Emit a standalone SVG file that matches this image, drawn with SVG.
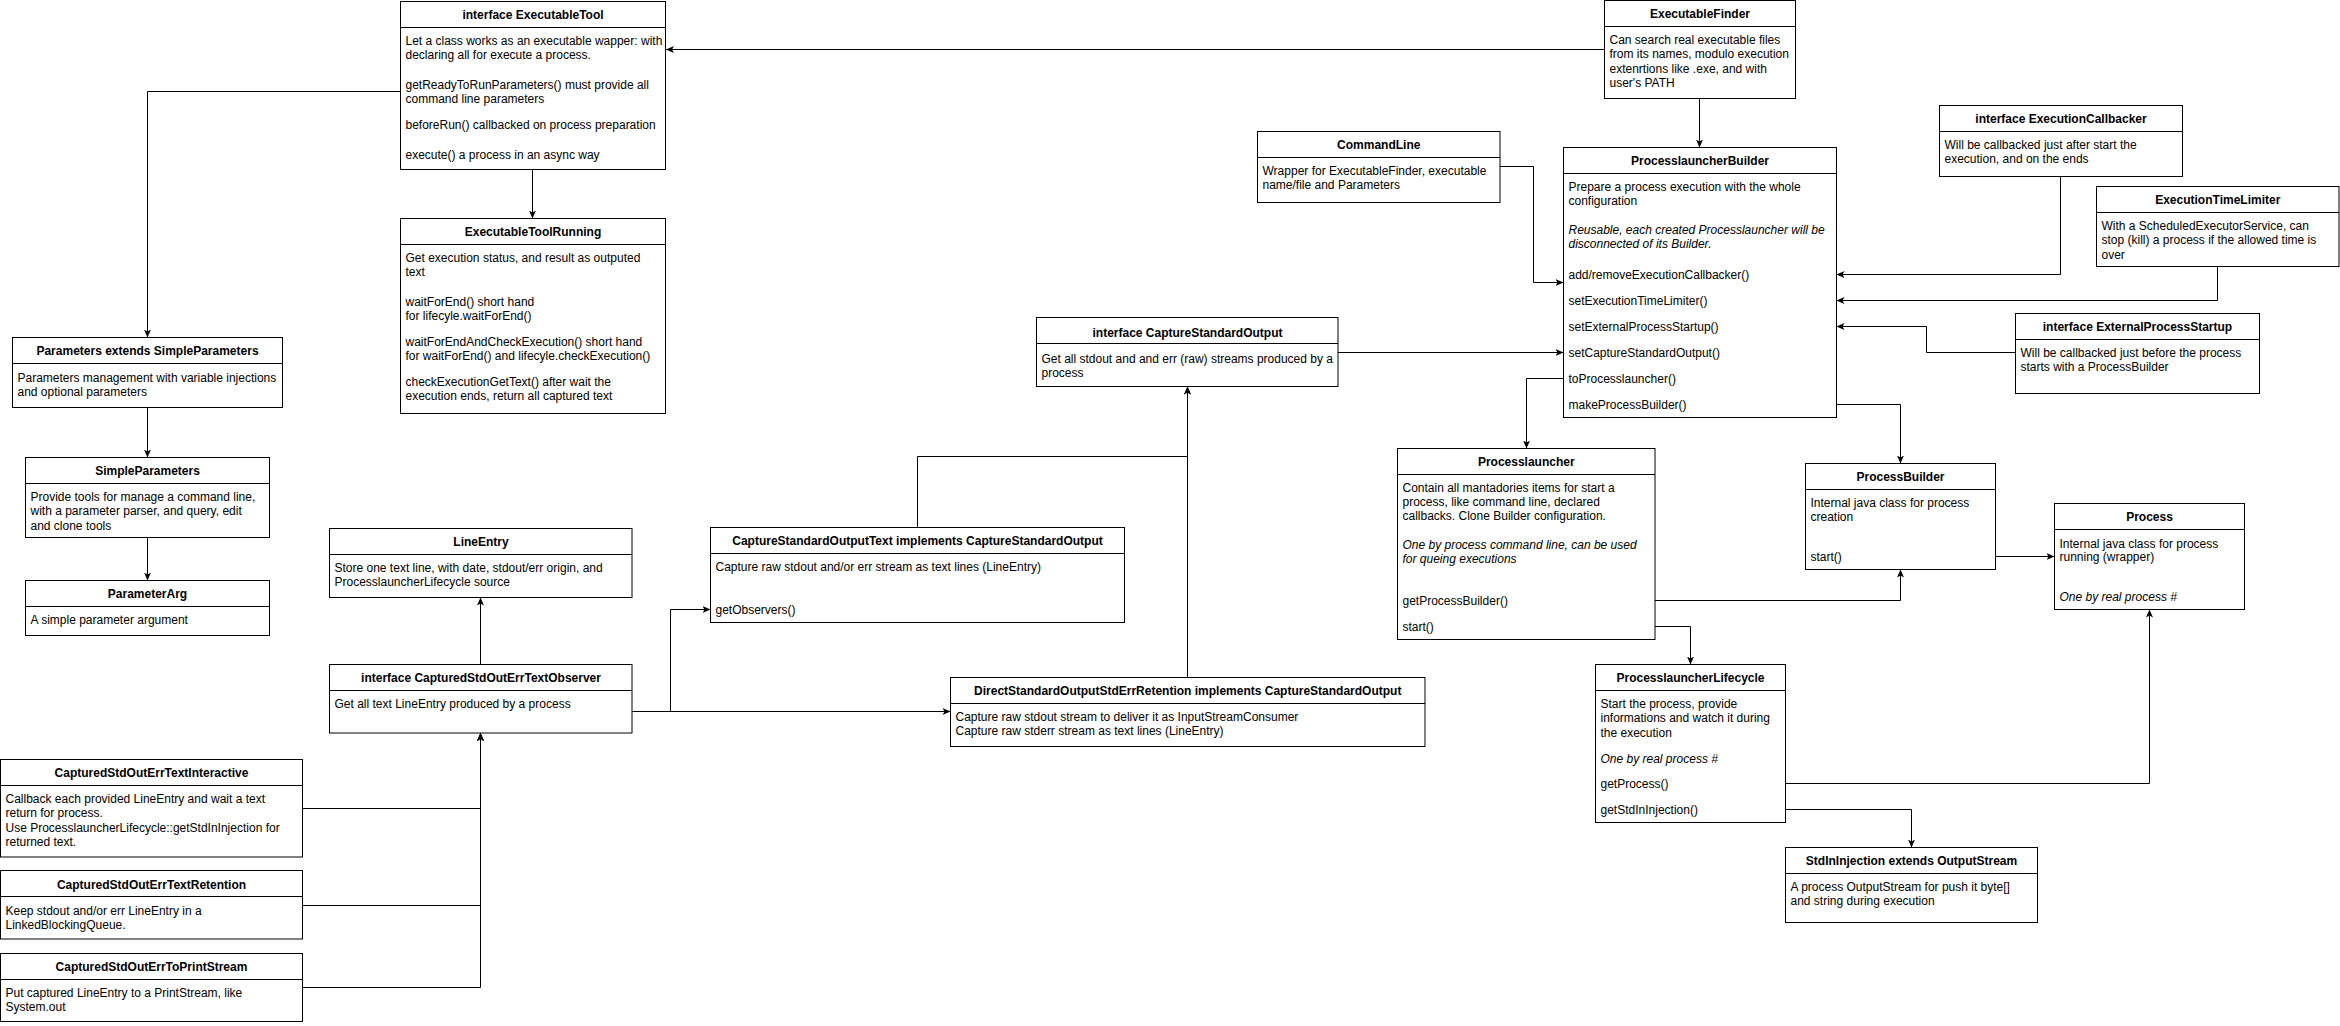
<svg xmlns="http://www.w3.org/2000/svg" width="2340" height="1026" viewBox="0 0 2340 1026">
<style>
.box{fill:#fff;stroke:#000;stroke-width:1}
.sep{stroke:#000;stroke-width:1}
text{font-family:"Liberation Sans",Arial,Helvetica,sans-serif;font-size:12px;fill:#000}
.t{font-weight:bold;text-anchor:middle}
.i{font-style:italic}
.c{fill:none;stroke:#000;stroke-width:1}
</style>
<defs>
<marker id="arr" viewBox="0 0 8 8" refX="8" refY="4" markerWidth="8" markerHeight="8" markerUnits="userSpaceOnUse" orient="auto">
<path d="M0,0.5 L8,4 L0,7.5 L2,4 Z" fill="#000"/>
</marker>
</defs>
<rect x="0" y="0" width="2340" height="1026" fill="#fff"/>

<g id="connectors">
<path class="c" marker-end="url(#arr)" d="M1604.5,49.5 H666"/>
<path class="c" marker-end="url(#arr)" d="M400.5,91.5 H147.5 V337.5"/>
<path class="c" marker-end="url(#arr)" d="M532.5,169.5 V218.5"/>
<path class="c" marker-end="url(#arr)" d="M147.5,407.5 V457.5"/>
<path class="c" marker-end="url(#arr)" d="M147.5,537.5 V580.5"/>
<path class="c" marker-end="url(#arr)" d="M480.5,664.5 V597.5"/>
<path class="c" marker-end="url(#arr)" d="M302.5,808.5 H480.5 V733"/>
<path class="c" marker-end="url(#arr)" d="M302.5,905.5 H480.5 V733"/>
<path class="c" marker-end="url(#arr)" d="M302.5,987.5 H480.5 V733"/>
<path class="c" marker-end="url(#arr)" d="M632,711.5 H670.5 V609.5 H710.5"/>
<path class="c" marker-end="url(#arr)" d="M632,711.5 H950.5"/>
<path class="c" marker-end="url(#arr)" d="M917.5,527.5 V456.5 H1187.5 V386.5"/>
<path class="c" marker-end="url(#arr)" d="M1187.5,677.5 V386.5"/>
<path class="c" marker-end="url(#arr)" d="M1338,352.5 H1563.5"/>
<path class="c" marker-end="url(#arr)" d="M1500,166.5 H1533.5 V282.5 H1563.5"/>
<path class="c" marker-end="url(#arr)" d="M1699.5,98.5 V147.5"/>
<path class="c" marker-end="url(#arr)" d="M2060.5,176.5 V274.5 H1836.5"/>
<path class="c" marker-end="url(#arr)" d="M2217.5,266.5 V300.5 H1836.5"/>
<path class="c" marker-end="url(#arr)" d="M2015.5,352.5 H1926.5 V326.5 H1836.5"/>
<path class="c" marker-end="url(#arr)" d="M1563.5,378.5 H1526.5 V448.5"/>
<path class="c" marker-end="url(#arr)" d="M1836.5,404.5 H1900.5 V463.5"/>
<path class="c" marker-end="url(#arr)" d="M1655,600.5 H1900.5 V569.5"/>
<path class="c" marker-end="url(#arr)" d="M1995.5,556.5 H2054.5"/>
<path class="c" marker-end="url(#arr)" d="M1655,626.5 H1690.5 V664.5"/>
<path class="c" marker-end="url(#arr)" d="M1785.5,783.5 H2149.5 V609.5"/>
<path class="c" marker-end="url(#arr)" d="M1785.5,809.5 H1911.5 V847.5"/>
</g>

<g id="executable-tool">
<rect class="box" x="400.5" y="1.5" width="265" height="168"/>
<line class="sep" x1="400.5" y1="27.5" x2="665.5" y2="27.5"/>
<text class="t" x="533" y="19">interface ExecutableTool</text>
<text x="405.5" y="44.5">Let a class works as an executable wapper: with</text>
<text x="405.5" y="58.5">declaring all for execute a process.</text>
<text x="405.5" y="88.5">getReadyToRunParameters() must provide all</text>
<text x="405.5" y="102.5">command line parameters</text>
<text x="405.5" y="128.5">beforeRun() callbacked on process preparation</text>
<text x="405.5" y="158.5">execute() a process in an async way</text>
</g>

<g id="executable-tool-running">
<rect class="box" x="400.5" y="218.5" width="265" height="195"/>
<line class="sep" x1="400.5" y1="244.5" x2="665.5" y2="244.5"/>
<text class="t" x="533" y="236">ExecutableToolRunning</text>
<text x="405.5" y="261.5">Get execution status, and result as outputed</text>
<text x="405.5" y="275.5">text</text>
<text x="405.5" y="305.5">waitForEnd() short hand</text>
<text x="405.5" y="319.5">for lifecyle.waitForEnd()</text>
<text x="405.5" y="345.5">waitForEndAndCheckExecution() short hand</text>
<text x="405.5" y="359.5">for waitForEnd() and lifecyle.checkExecution()</text>
<text x="405.5" y="385.5">checkExecutionGetText() after wait the</text>
<text x="405.5" y="399.5">execution ends, return all captured text</text>
</g>

<g id="parameters">
<rect class="box" x="12.5" y="337.5" width="270" height="70"/>
<line class="sep" x1="12.5" y1="363.5" x2="282.5" y2="363.5"/>
<text class="t" x="147.5" y="355">Parameters extends SimpleParameters</text>
<text x="17.5" y="381.5">Parameters management with variable injections</text>
<text x="17.5" y="395.5">and optional parameters</text>
</g>

<g id="simple-parameters">
<rect class="box" x="25.5" y="457.5" width="244" height="80"/>
<line class="sep" x1="25.5" y1="483.5" x2="269.5" y2="483.5"/>
<text class="t" x="147.5" y="474.5">SimpleParameters</text>
<text x="30.5" y="500.5">Provide tools for manage a command line,</text>
<text x="30.5" y="515">with a parameter parser, and query, edit</text>
<text x="30.5" y="529.5">and clone tools</text>
</g>

<g id="parameter-arg">
<rect class="box" x="25.5" y="580.5" width="244" height="55"/>
<line class="sep" x1="25.5" y1="606.5" x2="269.5" y2="606.5"/>
<text class="t" x="147.5" y="598">ParameterArg</text>
<text x="30.5" y="624">A simple parameter argument</text>
</g>

<g id="line-entry">
<rect class="box" x="329.5" y="528.5" width="302.5" height="69"/>
<line class="sep" x1="329.5" y1="554.5" x2="632" y2="554.5"/>
<text class="t" x="481" y="546">LineEntry</text>
<text x="334.5" y="571.5">Store one text line, with date, stdout/err origin, and</text>
<text x="334.5" y="585.5">ProcesslauncherLifecycle source</text>
</g>

<g id="text-observer">
<rect class="box" x="329.5" y="664.5" width="302.5" height="68.5"/>
<line class="sep" x1="329.5" y1="690.5" x2="632" y2="690.5"/>
<text class="t" x="481" y="682">interface CapturedStdOutErrTextObserver</text>
<text x="334.5" y="708">Get all text LineEntry produced by a process</text>
</g>

<g id="text-interactive">
<rect class="box" x="0.5" y="759.5" width="302" height="97.5"/>
<line class="sep" x1="0.5" y1="785.5" x2="302.5" y2="785.5"/>
<text class="t" x="151.5" y="776.5">CapturedStdOutErrTextInteractive</text>
<text x="5.5" y="802.5">Callback each provided LineEntry and wait a text</text>
<text x="5.5" y="817">return for process.</text>
<text x="5.5" y="831.5">Use ProcesslauncherLifecycle::getStdInInjection for</text>
<text x="5.5" y="845.5">returned text.</text>
</g>

<g id="text-retention">
<rect class="box" x="0.5" y="870.5" width="302" height="68.5"/>
<line class="sep" x1="0.5" y1="896.5" x2="302.5" y2="896.5"/>
<text class="t" x="151.5" y="888.5">CapturedStdOutErrTextRetention</text>
<text x="5.5" y="914.5">Keep stdout and/or err LineEntry in a</text>
<text x="5.5" y="928.5">LinkedBlockingQueue.</text>
</g>

<g id="to-print-stream">
<rect class="box" x="0.5" y="953.5" width="302" height="68"/>
<line class="sep" x1="0.5" y1="979.5" x2="302.5" y2="979.5"/>
<text class="t" x="151.5" y="971">CapturedStdOutErrToPrintStream</text>
<text x="5.5" y="996.5">Put captured LineEntry to a PrintStream, like</text>
<text x="5.5" y="1010.5">System.out</text>
</g>

<g id="capture-standard-output">
<rect class="box" x="1036.5" y="317.5" width="301.5" height="69"/>
<line class="sep" x1="1036.5" y1="343.5" x2="1338" y2="343.5"/>
<text class="t" x="1187.5" y="337">interface CaptureStandardOutput</text>
<text x="1041.5" y="362.5">Get all stdout and and err (raw) streams produced by a</text>
<text x="1041.5" y="376.5">process</text>
</g>

<g id="capture-standard-output-text">
<rect class="box" x="710.5" y="527.5" width="414" height="95"/>
<line class="sep" x1="710.5" y1="553.5" x2="1124.5" y2="553.5"/>
<text class="t" x="917.5" y="545">CaptureStandardOutputText implements CaptureStandardOutput</text>
<text x="715.5" y="570.5">Capture raw stdout and/or err stream as text lines (LineEntry)</text>
<text x="715.5" y="614">getObservers()</text>
</g>

<g id="direct-standard-output">
<rect class="box" x="950.5" y="677.5" width="474.5" height="69"/>
<line class="sep" x1="950.5" y1="703.5" x2="1425" y2="703.5"/>
<text class="t" x="1187.75" y="695">DirectStandardOutputStdErrRetention implements CaptureStandardOutput</text>
<text x="955.5" y="720.5">Capture raw stdout stream to deliver it as InputStreamConsumer</text>
<text x="955.5" y="734.5">Capture raw stderr stream as text lines (LineEntry)</text>
</g>

<g id="command-line">
<rect class="box" x="1257.5" y="131.5" width="242.5" height="71"/>
<line class="sep" x1="1257.5" y1="157.5" x2="1500" y2="157.5"/>
<text class="t" x="1378.75" y="149">CommandLine</text>
<text x="1262.5" y="175">Wrapper for ExecutableFinder, executable</text>
<text x="1262.5" y="189">name/file and Parameters</text>
</g>

<g id="executable-finder">
<rect class="box" x="1604.5" y="0.5" width="191" height="98"/>
<line class="sep" x1="1604.5" y1="26.5" x2="1795.5" y2="26.5"/>
<text class="t" x="1700" y="18">ExecutableFinder</text>
<text x="1609.5" y="44">Can search real executable files</text>
<text x="1609.5" y="58">from its names, modulo execution</text>
<text x="1609.5" y="72.5">extenrtions like .exe, and with</text>
<text x="1609.5" y="86.5">user's PATH</text>
</g>

<g id="processlauncher-builder">
<rect class="box" x="1563.5" y="147.5" width="273" height="270"/>
<line class="sep" x1="1563.5" y1="173.5" x2="1836.5" y2="173.5"/>
<text class="t" x="1700" y="165">ProcesslauncherBuilder</text>
<text x="1568.5" y="190.5">Prepare a process execution with the whole</text>
<text x="1568.5" y="204.5">configuration</text>
<text class="i" x="1568.5" y="234">Reusable, each created Processlauncher will be</text>
<text class="i" x="1568.5" y="248">disconnected of its Builder.</text>
<text x="1568.5" y="279">add/removeExecutionCallbacker()</text>
<text x="1568.5" y="305">setExecutionTimeLimiter()</text>
<text x="1568.5" y="331">setExternalProcessStartup()</text>
<text x="1568.5" y="357">setCaptureStandardOutput()</text>
<text x="1568.5" y="383">toProcesslauncher()</text>
<text x="1568.5" y="409">makeProcessBuilder()</text>
</g>

<g id="execution-callbacker">
<rect class="box" x="1939.5" y="105.5" width="243" height="71"/>
<line class="sep" x1="1939.5" y1="131.5" x2="2182.5" y2="131.5"/>
<text class="t" x="2061" y="123">interface ExecutionCallbacker</text>
<text x="1944.5" y="149">Will be callbacked just after start the</text>
<text x="1944.5" y="163">execution, and on the ends</text>
</g>

<g id="execution-time-limiter">
<rect class="box" x="2096.5" y="186.5" width="242.5" height="80"/>
<line class="sep" x1="2096.5" y1="212.5" x2="2339" y2="212.5"/>
<text class="t" x="2217.75" y="203.5">ExecutionTimeLimiter</text>
<text x="2101.5" y="230">With a ScheduledExecutorService, can</text>
<text x="2101.5" y="244">stop (kill) a process if the allowed time is</text>
<text x="2101.5" y="258.5">over</text>
</g>

<g id="external-process-startup">
<rect class="box" x="2015.5" y="313.5" width="244" height="80"/>
<line class="sep" x1="2015.5" y1="339.5" x2="2259.5" y2="339.5"/>
<text class="t" x="2137.5" y="331">interface ExternalProcessStartup</text>
<text x="2020.5" y="356.5">Will be callbacked just before the process</text>
<text x="2020.5" y="370.5">starts with a ProcessBuilder</text>
</g>

<g id="processlauncher">
<rect class="box" x="1397.5" y="448.5" width="257.5" height="191"/>
<line class="sep" x1="1397.5" y1="474.5" x2="1655" y2="474.5"/>
<text class="t" x="1526.25" y="466">Processlauncher</text>
<text x="1402.5" y="491.5">Contain all mantadories items for start a</text>
<text x="1402.5" y="505.5">process, like command line, declared</text>
<text x="1402.5" y="520">callbacks. Clone Builder configuration.</text>
<text class="i" x="1402.5" y="549">One by process command line, can be used</text>
<text class="i" x="1402.5" y="563">for queing executions</text>
<text x="1402.5" y="604.5">getProcessBuilder()</text>
<text x="1402.5" y="631">start()</text>
</g>

<g id="process-builder">
<rect class="box" x="1805.5" y="463.5" width="190" height="106"/>
<line class="sep" x1="1805.5" y1="489.5" x2="1995.5" y2="489.5"/>
<text class="t" x="1900.5" y="481">ProcessBuilder</text>
<text x="1810.5" y="506.5">Internal java class for process</text>
<text x="1810.5" y="520.5">creation</text>
<text x="1810.5" y="560.5">start()</text>
</g>

<g id="process">
<rect class="box" x="2054.5" y="503.5" width="190" height="106"/>
<line class="sep" x1="2054.5" y1="529.5" x2="2244.5" y2="529.5"/>
<text class="t" x="2149.5" y="521">Process</text>
<text x="2059.5" y="547.5">Internal java class for process</text>
<text x="2059.5" y="561">running (wrapper)</text>
<text class="i" x="2059.5" y="600.5">One by real process #</text>
</g>

<g id="processlauncher-lifecycle">
<rect class="box" x="1595.5" y="664.5" width="190" height="158"/>
<line class="sep" x1="1595.5" y1="690.5" x2="1785.5" y2="690.5"/>
<text class="t" x="1690.5" y="682">ProcesslauncherLifecycle</text>
<text x="1600.5" y="708">Start the process, provide</text>
<text x="1600.5" y="722">informations and watch it during</text>
<text x="1600.5" y="736.5">the execution</text>
<text class="i" x="1600.5" y="762.5">One by real process #</text>
<text x="1600.5" y="788">getProcess()</text>
<text x="1600.5" y="814">getStdInInjection()</text>
</g>

<g id="stdin-injection">
<rect class="box" x="1785.5" y="847.5" width="252" height="75"/>
<line class="sep" x1="1785.5" y1="873.5" x2="2037.5" y2="873.5"/>
<text class="t" x="1911.5" y="865">StdInInjection extends OutputStream</text>
<text x="1790.5" y="890.5">A process OutputStream for push it byte[]</text>
<text x="1790.5" y="904.5">and string during execution</text>
</g>
</svg>
